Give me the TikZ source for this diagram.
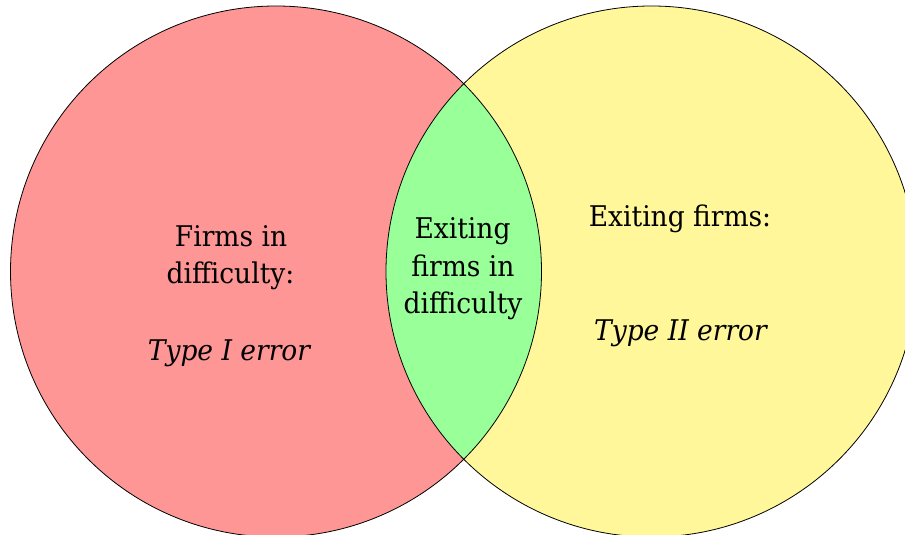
\documentclass[tikz,border=0pt]{standalone}
\usepackage{fontspec}
\setmainfont[FakeStretch=0.93]{DejaVu Serif}
\begin{document}
\begin{tikzpicture}[x=1pt,y=-1pt,
  lbl/.style={anchor=base,inner sep=0pt,font=\fontsize{28.5}{38}\selectfont},
  ilbl/.style={lbl,font=\fontsize{28.5}{38}\selectfont\itshape},
  ring/.style={draw=black,line width=0.8pt}]
\definecolor{redfill}{RGB}{255,150,150}
\definecolor{yellowfill}{RGB}{255,247,153}
\definecolor{greenfill}{RGB}{153,255,153}
\useasboundingbox (0,0) rectangle (905,535);
\clip (0,0) rectangle (905,535);
\coordinate (cl) at (276,271.5);
\coordinate (cr) at (651.5,271.5);
\fill[redfill] (cl) circle[radius=265.5pt];
\fill[yellowfill] (cr) circle[radius=265.5pt];
\begin{scope}
  \clip (cl) circle[radius=265.5pt];
  \fill[greenfill] (cr) circle[radius=265.5pt];
\end{scope}
\draw[ring] (cl) circle[radius=265.5pt];
\draw[ring] (cr) circle[radius=265.5pt];
\node[lbl] (l1) at (231,246) {Firms in};
\node[lbl] (l2) at (230.5,283.5) {difficulty:};
\node[ilbl] (l3) at (229,360) {Type I error};
\node[lbl] (m1) at (462.5,238) {Exiting};
\node[lbl] (m2) at (463,276) {firms in};
\node[lbl] (m3) at (463,313) {difficulty};
\node[lbl] (r1) at (680,226) {Exiting firms:};
\node[ilbl] (r2) at (680.5,340) {Type II error};
\end{tikzpicture}
\end{document}
